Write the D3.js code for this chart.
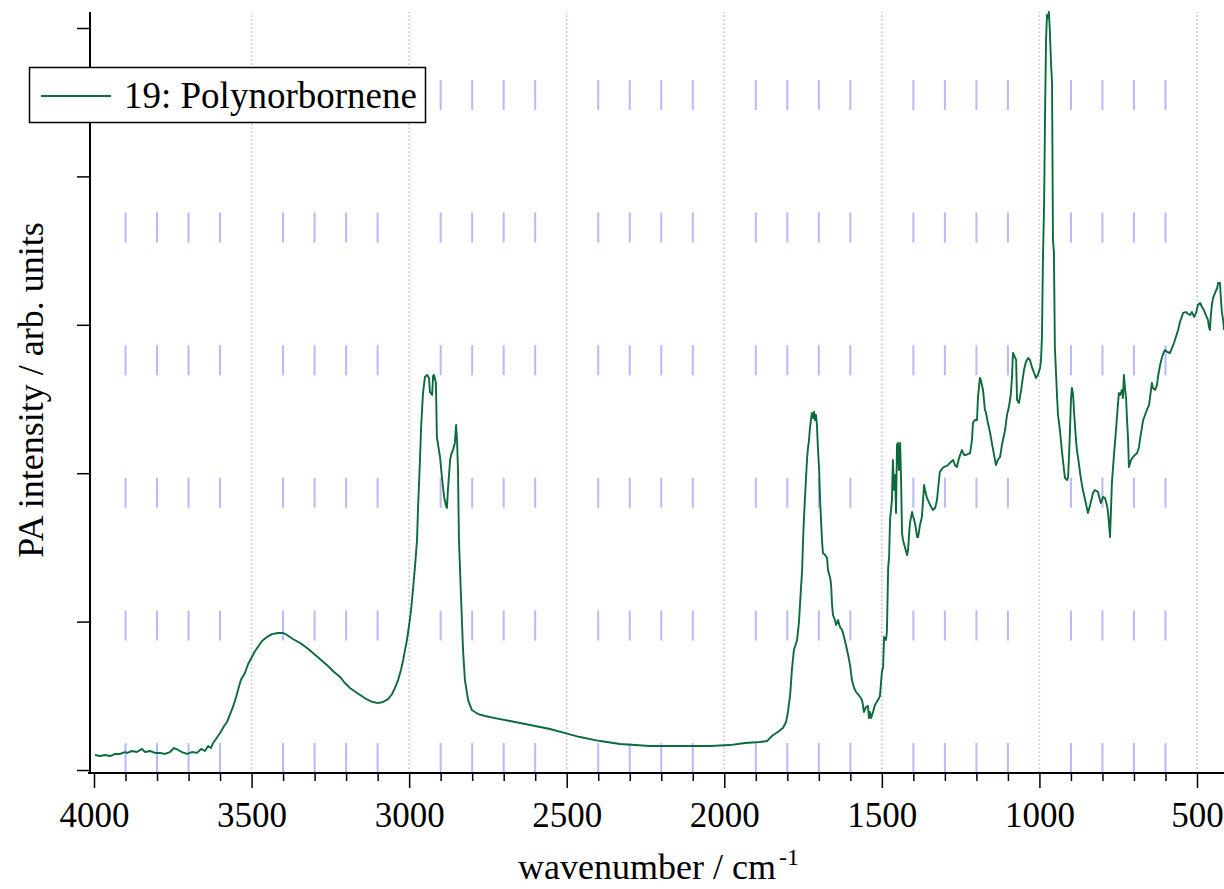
<!DOCTYPE html>
<html><head><meta charset="utf-8">
<script src="https://cdn.jsdelivr.net/npm/d3@7"></script>
<style>html,body{margin:0;padding:0;background:#fff;}svg{display:block;}</style>
</head><body>
<script>
const seriesName = "19: Polynorbornene";
const xTitle = "wavenumber / cm";
const xTitleSup = "-1";
const yTitle = "PA intensity / arb. units";
const xMajorTicks = [4000, 3500, 3000, 2500, 2000, 1500, 1000, 500];
const yTicks = [0, 1, 2, 3, 4, 5];

const wavenumber = [3997,3981,3965,3949,3933,3917,3902,3895,3879,3864,3848,3838,3822,3806,3791,3775,3759,3746,3733,3721,3705,3689,3673,3660,3648,3638,3629,3622,3613,3600,3587,3578,3568,3559,3549,3543,3534,3521,3511,3499,3489,3480,3467,3451,3435,3416,3400,3388,3369,3346,3324,3305,3283,3261,3242,3219,3204,3188,3165,3146,3131,3115,3099,3083,3067,3054,3045,3035,3026,3019,3013,3007,3000,2994,2988,2981,2975,2972,2966,2962,2956,2950,2943,2937,2934,2927,2924,2921,2915,2912,2902,2896,2889,2883,2880,2877,2870,2867,2861,2855,2851,2848,2845,2842,2835,2829,2823,2813,2801,2781,2759,2728,2680,2616,2553,2505,2458,2394,2331,2236,2141,2045,1982,1934,1887,1864,1855,1845,1830,1814,1804,1798,1791,1785,1779,1769,1763,1757,1753,1750,1747,1741,1737,1734,1731,1728,1725,1722,1718,1715,1712,1709,1706,1703,1699,1696,1690,1687,1680,1674,1671,1664,1661,1658,1655,1649,1645,1639,1633,1626,1620,1614,1607,1601,1595,1588,1582,1576,1569,1563,1560,1557,1550,1544,1541,1538,1534,1528,1522,1516,1509,1506,1500,1496,1493,1487,1484,1480,1477,1474,1468,1465,1461,1458,1455,1452,1449,1446,1442,1439,1436,1433,1427,1420,1417,1411,1404,1401,1395,1388,1385,1379,1373,1366,1363,1357,1347,1338,1331,1325,1322,1316,1312,1303,1293,1284,1274,1268,1262,1255,1246,1239,1233,1220,1214,1211,1205,1198,1195,1189,1186,1179,1173,1170,1164,1157,1151,1144,1138,1132,1125,1119,1109,1103,1097,1091,1087,1084,1078,1074,1071,1065,1058,1055,1049,1043,1036,1030,1024,1017,1011,1005,998,995,992,989,985,982,979,976,973,970,967,963,960,957,954,951,944,941,935,928,922,919,912,909,906,903,900,897,893,890,884,881,874,871,865,862,855,846,839,830,824,814,808,805,798,792,786,782,779,776,773,770,767,763,757,754,748,744,738,735,732,728,725,722,719,716,709,703,697,690,684,681,675,671,665,659,652,649,643,640,633,627,624,617,611,605,601,595,586,579,573,567,560,554,544,535,528,522,516,509,503,497,490,484,478,475,468,465,462,459,456,452,449,443,436,433,430,427,424,421,417,414];
const intensity = [0.101,0.094,0.101,0.094,0.108,0.108,0.121,0.115,0.128,0.121,0.142,0.121,0.128,0.115,0.115,0.108,0.121,0.148,0.135,0.121,0.108,0.121,0.115,0.142,0.128,0.162,0.148,0.182,0.209,0.249,0.296,0.323,0.377,0.425,0.492,0.539,0.606,0.654,0.714,0.761,0.802,0.829,0.869,0.896,0.916,0.923,0.923,0.910,0.883,0.856,0.822,0.788,0.748,0.708,0.667,0.627,0.586,0.553,0.519,0.492,0.472,0.458,0.451,0.458,0.478,0.512,0.553,0.606,0.674,0.741,0.809,0.876,0.977,1.078,1.213,1.381,1.550,1.752,2.069,2.311,2.540,2.648,2.662,2.642,2.547,2.527,2.655,2.662,2.608,2.244,2.109,1.974,1.840,1.779,1.766,1.887,2.089,2.123,2.156,2.204,2.325,2.224,2.022,1.550,1.146,0.809,0.606,0.472,0.404,0.377,0.364,0.350,0.330,0.303,0.276,0.249,0.222,0.195,0.175,0.162,0.162,0.162,0.168,0.182,0.189,0.195,0.216,0.236,0.256,0.283,0.323,0.391,0.505,0.687,0.809,0.876,0.997,1.213,1.348,1.550,1.705,1.954,2.109,2.177,2.224,2.311,2.358,2.406,2.372,2.412,2.358,2.392,2.325,2.177,2.022,1.819,1.550,1.462,1.449,1.429,1.348,1.294,1.247,1.112,1.044,1.011,0.977,1.011,0.964,0.943,0.896,0.842,0.775,0.708,0.606,0.553,0.526,0.512,0.492,0.472,0.438,0.391,0.425,0.431,0.350,0.391,0.350,0.391,0.438,0.458,0.485,0.499,0.660,0.694,0.896,0.876,0.930,1.361,1.435,1.685,1.819,2.089,1.887,1.988,1.732,2.190,2.204,2.022,2.204,1.954,1.597,1.550,1.503,1.449,1.482,1.664,1.739,1.712,1.664,1.570,1.570,1.651,1.705,1.920,1.887,1.833,1.786,1.752,1.765,1.819,1.887,2.008,2.022,2.042,2.049,2.069,2.089,2.055,2.042,2.102,2.156,2.123,2.123,2.136,2.224,2.338,2.358,2.358,2.513,2.642,2.628,2.561,2.426,2.412,2.345,2.278,2.204,2.123,2.055,2.089,2.109,2.190,2.291,2.392,2.446,2.527,2.648,2.810,2.783,2.763,2.493,2.473,2.561,2.608,2.695,2.749,2.776,2.763,2.716,2.675,2.642,2.662,2.709,2.763,2.918,3.416,3.841,4.447,4.919,5.088,5.067,5.108,4.987,4.751,4.636,3.571,3.491,2.850,2.513,2.392,2.291,2.136,2.022,1.968,1.954,1.974,2.123,2.291,2.493,2.574,2.527,2.406,2.224,2.156,2.055,2.001,1.920,1.887,1.819,1.732,1.786,1.867,1.887,1.873,1.819,1.799,1.840,1.833,1.786,1.732,1.651,1.570,1.752,1.934,2.022,2.136,2.291,2.379,2.540,2.527,2.561,2.507,2.662,2.561,2.507,2.358,2.244,2.042,2.089,2.109,2.123,2.136,2.177,2.224,2.305,2.358,2.392,2.426,2.460,2.513,2.608,2.574,2.561,2.593,2.648,2.729,2.783,2.817,2.830,2.817,2.810,2.844,2.877,2.918,2.965,3.019,3.080,3.086,3.073,3.066,3.086,3.053,3.080,3.133,3.147,3.120,3.100,3.080,3.046,3.032,2.985,2.965,3.066,3.147,3.181,3.214,3.248,3.282,3.282,3.282,3.167,3.086,3.032,2.965];

const W = 1224, H = 889;
const axisTop = 12, axisBottom = 773, axisLeft = 90;
const lineColor = "#0b6b3a";
const font = "'Liberation Serif','Times New Roman',serif";

const svg = d3.select("body").append("svg").attr("width", W).attr("height", H);

const x = d3.scaleLinear().domain([4000, 500]).range([94, 1197]);
const y = d3.scaleLinear().domain([0, 5]).range([770, 28]);

const minorTicks = d3.range(3900, 399, -100).filter(v => v % 500 !== 0 && x(v) <= W);

// minor grid (dashed)
svg.append("g").selectAll("line").data(minorTicks).join("line")
  .attr("x1", d => x(d)).attr("x2", d => x(d))
  .attr("y1", axisBottom).attr("y2", axisTop)
  .attr("stroke", "#b8b8ff").attr("stroke-width", 2)
  .attr("stroke-dasharray", "30,102.6");

// major grid (dotted)
svg.append("g").selectAll("line").data(xMajorTicks.filter(v => v !== 4000)).join("line")
  .attr("x1", d => x(d)).attr("x2", d => x(d))
  .attr("y1", axisBottom).attr("y2", axisTop)
  .attr("stroke", "#b8b8ff").attr("stroke-width", 1.5)
  .attr("stroke-dasharray", "1.5,2.5");

// spectrum
const data = wavenumber.map((w, i) => [w, intensity[i]]);
svg.append("path").datum(data)
  .attr("fill", "none").attr("stroke", lineColor).attr("stroke-width", 1.9)
  .attr("stroke-linejoin", "round")
  .attr("d", d3.line().x(d => x(d[0])).y(d => y(d[1])));

// X axis
const gx = svg.append("g").attr("transform", `translate(0,${axisBottom})`);
gx.append("line").attr("x1", axisLeft - 2).attr("x2", W).attr("y1", 0).attr("y2", 0)
  .attr("stroke", "#000").attr("stroke-width", 2);
gx.append("g").call(d3.axisBottom(x).tickValues(minorTicks).tickSize(8).tickFormat(""))
  .call(g => g.select(".domain").remove())
  .selectAll("line").attr("stroke", "#000").attr("stroke-width", 1.5);
const gMaj = gx.append("g").call(d3.axisBottom(x).tickValues(xMajorTicks).tickSize(15).tickPadding(14).tickFormat(d3.format("d")));
gMaj.select(".domain").remove();
gMaj.selectAll("line").attr("stroke", "#000").attr("stroke-width", 1.5);
gMaj.selectAll("text").attr("font-family", font).attr("font-size", 35).attr("fill", "#000");

// Y axis
const gy = svg.append("g").attr("transform", `translate(${axisLeft},0)`);
gy.append("line").attr("x1", 0).attr("x2", 0).attr("y1", axisTop).attr("y2", axisBottom)
  .attr("stroke", "#000").attr("stroke-width", 2);
gy.append("g").call(d3.axisLeft(y).tickValues(yTicks).tickSize(13).tickFormat(""))
  .call(g => g.select(".domain").remove())
  .selectAll("line").attr("stroke", "#000").attr("stroke-width", 1.5);

// axis titles
const xt = svg.append("text").attr("x", 518).attr("y", 879)
  .attr("font-family", font).attr("font-size", 36).attr("fill", "#000");
xt.append("tspan").text(xTitle);
xt.append("tspan").attr("font-size", 24).attr("dy", -14).attr("dx", 3).text(xTitleSup);

svg.append("text").attr("transform", "translate(43,390) rotate(-90)")
  .attr("text-anchor", "middle").attr("font-family", font).attr("font-size", 36)
  .attr("fill", "#000").text(yTitle);

// legend
const lg = svg.append("g");
lg.append("rect").attr("x", 29.5).attr("y", 67.5).attr("width", 396).attr("height", 55)
  .attr("fill", "#fff").attr("stroke", "#000").attr("stroke-width", 1.5);
lg.append("line").attr("x1", 41).attr("x2", 111).attr("y1", 96).attr("y2", 96)
  .attr("stroke", lineColor).attr("stroke-width", 1.8);
lg.append("text").attr("x", 124).attr("y", 108).attr("font-family", font)
  .attr("font-size", 37).attr("fill", "#000").text(seriesName);
</script>
</body></html>
